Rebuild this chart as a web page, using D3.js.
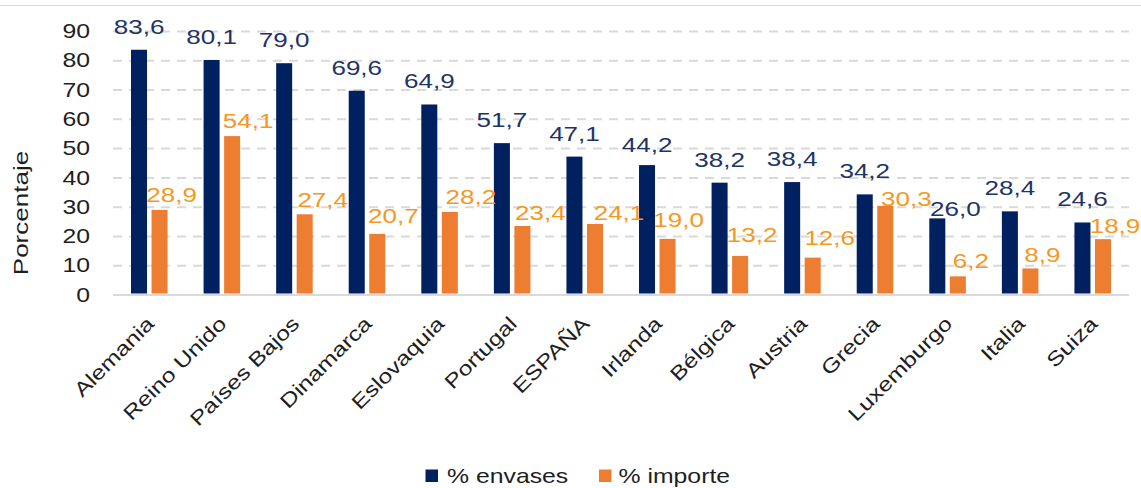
<!DOCTYPE html>
<html>
<head>
<meta charset="utf-8">
<script src="https://cdn.jsdelivr.net/npm/d3@7"></script>
<style>
  html, body { margin: 0; padding: 0; background: #fff; }
  svg { display: block; }
  text { font-family: "Liberation Sans", Arial, sans-serif; }
</style>
</head>
<body>
<svg id="chart" width="1141" height="488"></svg>
<script>
// Countries and the two percentages shown for each
const paises = ["Alemania", "Reino Unido", "Países Bajos", "Dinamarca", "Eslovaquia", "Portugal",
  "ESPAÑA", "Irlanda", "Bélgica", "Austria", "Grecia", "Luxemburgo", "Italia", "Suiza"];
const envases = [83.6, 80.1, 79.0, 69.6, 64.9, 51.7, 47.1, 44.2, 38.2, 38.4, 34.2, 26.0, 28.4, 24.6];
const importe = [28.9, 54.1, 27.4, 20.7, 28.2, 23.4, 24.1, 19.0, 13.2, 12.6, 30.3, 6.2, 8.9, 18.9];
const seriesNames = ["% envases", "% importe"];
const yTicks = [0, 10, 20, 30, 40, 50, 60, 70, 80, 90];
const yLabel = "Porcentaje";

// Hand-placed value labels: [dx, gap above bar top]
const envLabelShift = [[0,16],[0,16],[0,16],[0,16],[0,16],[0,16],[0,16],[0,13],[0,16],[0,16],[0,16],[18,2],[0,16],[0,16]];
const impLabelShift = [[12,8],[16,8],[18,7],[16,11],[21,8],[18,6],[24,4],[11,12],[12,14],[17,13],[21,0],[13,8],[12,6],[12,6]];

const colors = { env: "#002060", imp: "#ED7D31", envText: "#1F3466", impText: "#F5981F", axisText: "#1e1e1e", grid: "#d9d9d9" };
const WIDEN = 1.24; // horizontal stretch of the lettering

const svg = d3.select("#chart");
const fmt = v => d3.format(".1f")(v).replace(".", ",");

const plot = { left: 113, right: 1129, top: 31, bottom: 294.5 };

const x0 = d3.scaleBand().domain(paises).range([plot.left, plot.right]).paddingInner(0).paddingOuter(0);
const x1 = d3.scaleBand().domain(["env", "imp"]).range([0, x0.bandwidth()]).paddingInner(0.22).paddingOuter(0.877);
const y = d3.scaleLinear().domain([0, 90]).range([plot.bottom, plot.top]);

// thin rule across the top
svg.append("line").attr("x1", 0).attr("x2", 1141).attr("y1", 5.5).attr("y2", 5.5)
  .attr("stroke", "#dcdcdc").attr("stroke-width", 1);

// gridlines
const yAxis = d3.axisLeft(y).tickValues(yTicks).tickSize(-(plot.right - plot.left)).tickFormat("");
const gGrid = svg.append("g").attr("transform", `translate(${plot.left},0)`).call(yAxis);
gGrid.select(".domain").remove();
gGrid.selectAll(".tick line")
  .attr("stroke", colors.grid).attr("stroke-width", 2)
  .attr("stroke-dasharray", d => d === 0 ? null : "9,7");

// y tick labels
svg.append("g").selectAll("text").data(yTicks).join("text")
  .attr("transform", d => `translate(90,${y(d) + 7.2}) scale(${WIDEN},1)`)
  .attr("text-anchor", "end").attr("font-size", 20).attr("fill", colors.axisText)
  .text(d => d);

// y axis title
svg.append("text")
  .attr("transform", `translate(28,213) rotate(-90) scale(${WIDEN},1)`)
  .attr("text-anchor", "middle").attr("font-size", 21).attr("fill", colors.axisText)
  .text(yLabel);

// bars
const rows = paises.map((p, i) => ({ p, i, env: envases[i], imp: importe[i] }));
const gBars = svg.append("g");
gBars.selectAll("rect.env").data(rows).join("rect").attr("class", "env")
  .attr("x", d => x0(d.p) + x1("env")).attr("width", x1.bandwidth())
  .attr("y", d => y(d.env)).attr("height", d => y(0) - y(d.env) - 1)
  .attr("fill", colors.env);
gBars.selectAll("rect.imp").data(rows).join("rect").attr("class", "imp")
  .attr("x", d => x0(d.p) + x1("imp")).attr("width", x1.bandwidth())
  .attr("y", d => y(d.imp)).attr("height", d => y(0) - y(d.imp) - 1)
  .attr("fill", colors.imp);

// value labels
svg.append("g").selectAll("text").data(rows).join("text")
  .attr("transform", d => {
    const s = envLabelShift[d.i];
    return `translate(${x0(d.p) + x1("env") + x1.bandwidth() / 2 + s[0]},${y(d.env) - s[1]}) scale(${WIDEN},1)`;
  })
  .attr("text-anchor", "middle").attr("font-size", 21).attr("fill", colors.envText)
  .text(d => fmt(d.env));
svg.append("g").selectAll("text").data(rows).join("text")
  .attr("transform", d => {
    const s = impLabelShift[d.i];
    return `translate(${x0(d.p) + x1("imp") + x1.bandwidth() / 2 + s[0]},${y(d.imp) - s[1]}) scale(${WIDEN},1)`;
  })
  .attr("text-anchor", "middle").attr("font-size", 21).attr("fill", colors.impText)
  .text(d => fmt(d.imp));

// category labels, slanted
svg.append("g").selectAll("text").data(paises).join("text")
  .attr("transform", d => `translate(${x0(d) + x0.bandwidth() / 2 + 6},325) rotate(-45) scale(${WIDEN},1)`)
  .attr("text-anchor", "end").attr("font-size", 20).attr("fill", colors.axisText)
  .text(d => d);

// legend
const legend = [
  { name: seriesNames[0], color: colors.env, sx: 425.5, tx: 447 },
  { name: seriesNames[1], color: colors.imp, sx: 599, tx: 618.5 }
];
const gLeg = svg.append("g");
gLeg.selectAll("rect").data(legend).join("rect")
  .attr("x", d => d.sx).attr("y", 469.5).attr("width", 12.5).attr("height", 12.5).attr("fill", d => d.color);
gLeg.selectAll("text").data(legend).join("text")
  .attr("transform", d => `translate(${d.tx},483) scale(${WIDEN},1)`)
  .attr("font-size", 20).attr("fill", colors.axisText)
  .text(d => d.name);
</script>
</body>
</html>
